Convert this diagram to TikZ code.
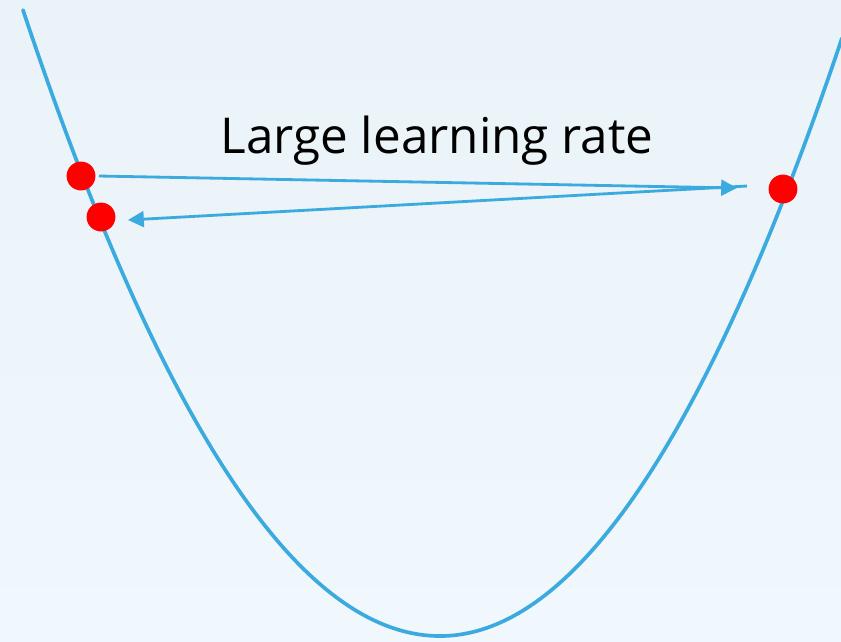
\documentclass[tikz,border=0pt]{standalone}
\usepackage{fontspec}
\setmainfont{Open Sans}
\usetikzlibrary{arrows.meta}
\definecolor{curveblue}{RGB}{59,170,222}
\definecolor{bgA}{RGB}{234,243,247}
\definecolor{bgB}{RGB}{240,247,253}
\begin{document}
\begin{tikzpicture}[x=0.01cm,y=-0.01cm,
  curve/.style={draw=curveblue,line width=1.05pt,line cap=round},
  dot/.style={circle,fill=red,inner sep=0pt,minimum size=8.2pt},
  jump/.style={draw=curveblue,line width=0.8pt,-{Triangle[length=4.5pt,width=4.5pt]}},
  titletext/.style={font=\fontsize{14.05}{16}\selectfont,anchor=base,inner sep=0pt}]
\shade[top color=bgA,bottom color=bgB] (0,0) rectangle (841,641);
\useasboundingbox (0,0) rectangle (841,641);
\draw[curve] plot[domain=-4.17:0,samples=90,smooth] ({440+100*\x},{636-36*\x*\x})
  -- plot[domain=0:4.02,samples=90,smooth] ({440+100*\x},{636-37*\x*\x});
\node[titletext] (lbl) at (437,153) {Large learning rate};
\node[dot] (p1) at (81,176) {};
\node[dot] (p2) at (101,217) {};
\node[dot] (p3) at (783,189) {};
\coordinate (a1s) at (99,176);
\coordinate (a1e) at (737,188);
\coordinate (a2s) at (747,186);
\coordinate (a2e) at (128,220);
\draw[jump] (a1s) -- (a1e);
\draw[jump] (a2s) -- (a2e);
\end{tikzpicture}
\end{document}
